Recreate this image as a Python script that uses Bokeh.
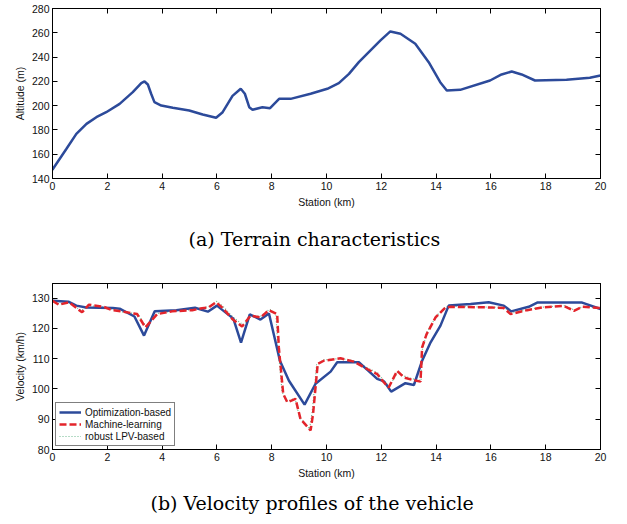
from bokeh.plotting import figure
from bokeh.models import LinearAxis, Range1d, FixedTicker, Legend, LegendItem, Title
from bokeh.layouts import column
from bokeh.embed import file_html
from bokeh.resources import INLINE

# ---------------- data ----------------
terrain_km = [0.0, 0.02, 0.51, 0.87, 1.24, 1.6, 1.96, 2.45, 2.93, 3.24, 3.36, 3.48, 3.6, 3.72,
              3.97, 4.39, 4.99, 5.48, 5.97, 6.21, 6.57, 6.87, 7.02, 7.18, 7.3, 7.66, 7.94,
              8.27, 8.69, 9.42, 10.03, 10.45, 10.82, 11.18, 11.97, 12.33, 12.7, 13.24,
              13.73, 14.15, 14.39, 14.88, 15.97, 16.39, 16.76, 17.12, 17.61, 18.76, 19.61, 20.0]
terrain_alt = [147.0, 148.0, 164.5, 176.8, 185.0, 190.5, 194.6, 201.5, 211.1, 218.5, 219.9, 217.4,
               209.8, 202.9, 200.1, 198.2, 196.0, 192.7, 190.0, 194.6, 208.0, 213.9, 209.8, 198.7,
               196.6, 198.7, 197.9, 205.6, 205.6, 209.8, 213.9, 218.5, 226.2, 235.8, 253.7, 261.1,
               259.2, 251.0, 235.8, 219.3, 212.5, 213.0, 220.7, 225.7, 228.1, 225.7, 220.7, 221.3,
               222.9, 224.8]

opt_km = [0.0, 0.58, 0.87, 1.23, 2.2, 2.45, 2.99, 3.34, 3.73, 4.52, 5.2, 5.67, 6.0, 6.6, 6.88,
          7.2, 7.59, 7.9, 8.3, 8.63, 9.2, 9.6, 10.15, 10.39, 11.18, 11.49, 11.85, 12.1, 12.36,
          12.88, 13.19, 13.49, 13.8, 14.16, 14.46, 15.26, 15.92, 16.47, 16.74, 17.38, 17.69,
          19.33, 20.0]
opt_v = [129.1, 128.8, 127.5, 126.9, 126.7, 126.5, 123.9, 117.6, 125.6, 126.0, 126.8, 125.5,
         127.5, 123.2, 115.3, 124.6, 122.9, 124.9, 109.3, 102.7, 94.8, 101.7, 105.7, 108.8,
         108.8, 106.3, 103.3, 102.5, 99.1, 101.9, 101.3, 109.3, 115.4, 120.9, 127.5, 128.0,
         128.6, 127.5, 125.6, 127.1, 128.5, 128.5, 126.4]

ml_km = [0.0, 0.23, 0.6, 1.08, 1.33, 1.87, 2.18, 2.6, 3.09, 3.39, 3.82, 4.37, 5.1, 5.46, 5.7,
         5.97, 6.19, 6.56, 6.92, 7.23, 7.59, 7.9, 8.2, 8.26, 8.42, 8.57, 8.87, 9.05, 9.42, 9.51,
         9.68, 9.9, 10.51, 11.0, 11.6, 11.85, 12.09, 12.27, 12.58, 12.82, 13.13, 13.43, 13.49,
         13.65, 13.98, 14.34, 14.53, 15.99, 16.47, 16.72, 17.32, 17.87, 18.66, 19.03, 19.33, 20.0]
ml_v = [129.1, 127.8, 128.6, 125.3, 127.8, 127.1, 126.0, 125.5, 124.7, 120.3, 124.7, 125.6,
        126.0, 126.6, 126.9, 128.6, 126.9, 123.1, 120.6, 124.2, 123.6, 126.0, 124.7, 113.7,
        98.4, 95.6, 96.7, 90.1, 86.3, 91.8, 108.3, 109.3, 110.1, 109.0, 106.0, 104.9, 102.2,
        100.5, 106.0, 103.8, 103.0, 102.4, 113.7, 118.0, 123.6, 126.9, 127.1, 126.9, 126.7,
        124.7, 126.0, 126.9, 127.4, 125.8, 127.1, 126.7]

lpv_km = [0.0, 0.25, 0.62, 1.05, 1.35, 1.85, 2.2, 2.62, 3.1, 3.4, 3.84, 4.4, 5.1, 5.48, 5.72,
          6.0, 6.22, 6.6, 6.95, 7.25, 7.6, 7.92, 8.15, 8.22, 8.38, 8.55, 8.85, 9.02, 9.38, 9.48,
          9.64, 9.88, 10.5, 11.0, 11.62, 11.88, 12.1, 12.3, 12.6, 12.85, 13.15, 13.45, 13.5,
          13.66, 14.0, 14.36, 14.55, 16.0, 16.5, 16.75, 17.35, 17.9, 18.7, 19.05, 19.35, 20.0]
lpv_v = [129.0, 128.0, 128.4, 125.8, 127.5, 127.0, 126.2, 125.2, 124.9, 120.8, 124.9, 125.7,
         126.2, 126.8, 127.2, 128.9, 127.3, 123.6, 121.2, 124.0, 124.0, 126.3, 125.0, 114.5,
         99.0, 95.9, 96.9, 90.6, 86.8, 92.5, 108.0, 109.6, 110.0, 109.3, 106.4, 105.2, 102.6,
         101.0, 105.6, 104.2, 103.3, 102.8, 113.0, 118.6, 124.0, 127.2, 127.3, 127.0, 126.9,
         125.0, 126.2, 127.0, 127.5, 126.0, 127.2, 126.8]

x_ticks = [0, 2, 4, 6, 8, 10, 12, 14, 16, 18, 20]
alt_ticks = [140, 160, 180, 200, 220, 240, 260, 280]
vel_ticks = [80, 90, 100, 110, 120, 130]

caption_a = "(a) Terrain characteristics"
caption_b = "(b) Velocity profiles of the vehicle"

FONT = "Liberation Sans"
BLUE = "#2c4a9a"
RED = "#e3242b"
GREEN = "#6fb98f"


def style(p, xt, yt, xlabel, ylabel):
    p.outline_line_color = "black"
    p.outline_line_width = 1
    p.xgrid.grid_line_color = None
    p.ygrid.grid_line_color = None
    for ax, ticks, lab in ((p.xaxis[0], xt, xlabel), (p.yaxis[0], yt, ylabel)):
        ax.ticker = FixedTicker(ticks=ticks)
        ax.axis_label = lab
        ax.axis_label_text_font = FONT
        ax.axis_label_text_font_size = "10.5px"
        ax.axis_label_text_font_style = "normal"
        ax.axis_label_text_color = "#111111"
        ax.axis_label_standoff = 3
        ax.major_label_text_font = FONT
        ax.major_label_text_font_size = "10.5px"
        ax.major_label_text_color = "#111111"
        ax.major_label_standoff = 3
        ax.major_tick_in = 5
        ax.major_tick_out = 0
        ax.minor_tick_line_color = None
        ax.axis_line_color = "black"
        ax.major_tick_line_color = "black"
    for loc, ticks in (("right", yt), ("above", xt)):
        ax = LinearAxis(ticker=FixedTicker(ticks=ticks))
        ax.major_label_text_color = None
        ax.major_label_text_font_size = "1px"
        ax.major_label_standoff = 0
        ax.major_tick_in = 5
        ax.major_tick_out = 0
        ax.minor_tick_line_color = None
        ax.axis_line_color = "black"
        p.add_layout(ax, loc)


def caption(p, txt, standoff, offset):
    t = Title(text=txt, align="left", text_font="DejaVu Serif", text_font_size="19px",
              text_font_style="normal", text_color="black", standoff=standoff, offset=offset)
    p.add_layout(t, "below")


# ---------------- (a) terrain ----------------
pA = figure(width=627, height=272, x_range=Range1d(0, 20), y_range=Range1d(140, 280),
            output_backend="svg", toolbar_location=None,
            min_border_left=51, min_border_right=27, min_border_top=8, min_border_bottom=94)
style(pA, x_ticks, alt_ticks, "Station (km)", "Altitude (m)")
pA.line(terrain_km, terrain_alt, line_color=BLUE, line_width=2.5)
caption(pA, caption_a, 30, 136)

# ---------------- (b) velocity ----------------
pB = figure(width=627, height=252, x_range=Range1d(0, 20), y_range=Range1d(80, 134.8),
            output_backend="svg", toolbar_location=None,
            min_border_left=52, min_border_right=27, min_border_top=11, min_border_bottom=75)
style(pB, x_ticks, vel_ticks, "Station (km)", "Velocity (km/h)")
r_lpv = pB.line(lpv_km, lpv_v, line_color=GREEN, line_width=1.2, line_dash="1 2")
r_opt = pB.line(opt_km, opt_v, line_color=BLUE, line_width=2.5)
r_ml = pB.line(ml_km, ml_v, line_color=RED, line_width=2.5, line_dash="7 3")
caption(pB, caption_b, 16, 98)

legend = Legend(items=[LegendItem(label="Optimization-based", renderers=[r_opt]),
                       LegendItem(label="Machine-learning", renderers=[r_ml]),
                       LegendItem(label="robust LPV-based", renderers=[r_lpv])],
                location="bottom_left")
legend.label_text_font = FONT
legend.label_text_font_size = "10px"
legend.label_text_color = "#111111"
legend.label_height = 12
legend.glyph_height = 12
legend.glyph_width = 22
legend.label_standoff = 4
legend.spacing = 0
legend.padding = 3
legend.margin = 3
legend.border_line_color = "black"
legend.border_line_width = 1
legend.background_fill_alpha = 1.0
pB.add_layout(legend)

layout = column(pA, pB)
open("out.html", "w").write(file_html(layout, INLINE))
